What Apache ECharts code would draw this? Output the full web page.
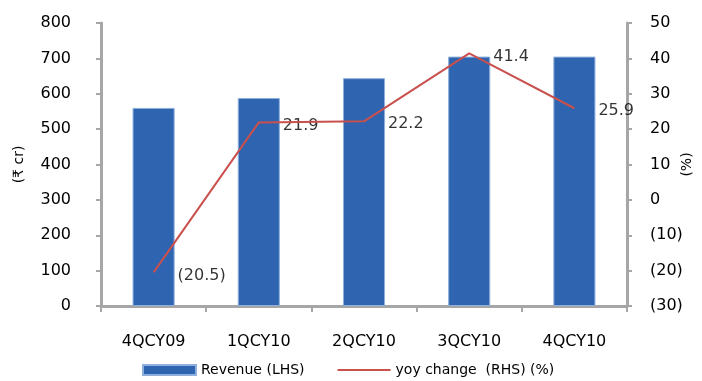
<!DOCTYPE html>
<html><head><meta charset="utf-8">
<script src="https://cdn.jsdelivr.net/npm/echarts@6/dist/echarts.min.js"></script>
<style>html,body{margin:0;padding:0;background:#fff}#c{width:702px;height:381px}</style>
</head><body><div id="c"></div>
<script>
const categories = ['4QCY09','1QCY10','2QCY10','3QCY10','4QCY10'];
const revenue = [560, 588, 644, 705, 705];
const yoyChange = [-20.5, 21.9, 22.2, 41.4, 25.9];
const yoyLabels = ['(20.5)','21.9','22.2','41.4','25.9'];
const fmtPct = v => v < 0 ? '(' + Math.abs(v) + ')' : String(v);
const FONT = '"DejaVu Sans", "Noto Sans", sans-serif';
const axisCol = '#a6a6a6';
const chart = echarts.init(document.getElementById('c'));
chart.setOption({
  animation: false,
  textStyle: {fontFamily: FONT, color: '#000'},
  grid: {left: 101, right: 75, top: 23, bottom: 75, containLabel: false, outerBoundsMode: 'none'},
  legend: {
    top: 358, left: 137, itemWidth: 53, itemHeight: 10, itemGap: 33,
    textStyle: {fontSize: 14, fontFamily: FONT, color: '#000'},
    data: [{name: 'Revenue (LHS)', icon: 'rect'},
           {name: 'yoy change  (RHS) (%)', icon: 'path://M0,0H53V2H0Z'}]
  },
  xAxis: {
    type: 'category', data: categories,
    axisLine: {lineStyle: {color: axisCol, width: 3}},
    axisTick: {show: true, length: 6, lineStyle: {color: axisCol, width: 2}},
    axisLabel: {fontSize: 16, color: '#000', margin: 28, fontFamily: FONT}
  },
  yAxis: [{
    type: 'value', min: 0, max: 800, interval: 100,
    name: '(₹ cr)', nameLocation: 'middle', nameGap: 75, nameRotate: 90, nameMoveOverlap: false,
    nameTextStyle: {fontSize: 14, color: '#000', fontFamily: FONT},
    splitLine: {show: false},
    axisLine: {show: true, lineStyle: {color: axisCol, width: 3}},
    axisTick: {show: true, length: 5, lineStyle: {color: axisCol, width: 2}},
    axisLabel: {fontSize: 16, color: '#000', margin: 30, fontFamily: FONT}
  }, {
    type: 'value', min: -30, max: 50, interval: 10,
    name: '(%)', nameLocation: 'middle', nameGap: 53, nameRotate: 90, nameMoveOverlap: false,
    nameTextStyle: {fontSize: 14, color: '#000', fontFamily: FONT},
    splitLine: {show: false},
    axisLine: {show: true, lineStyle: {color: axisCol, width: 3}},
    axisTick: {show: true, length: 5, lineStyle: {color: axisCol, width: 2}},
    axisLabel: {fontSize: 16, color: '#000', margin: 23, fontFamily: FONT, formatter: fmtPct}
  }],
  series: [{
    name: 'Revenue (LHS)', type: 'bar', data: revenue, barWidth: '40%',
    itemStyle: {color: '#2e64b0', borderColor: '#8fb0dc', borderWidth: 1}
  }, {
    name: 'yoy change  (RHS) (%)', type: 'line', yAxisIndex: 1, data: yoyChange,
    symbol: 'none',
    lineStyle: {color: '#c9504d', width: 2}, itemStyle: {color: '#c9504d'}
  }, {
    name: 'yoy labels', type: 'scatter', yAxisIndex: 1, data: yoyChange,
    symbolSize: 0, silent: true,
    label: {show: true, position: 'right', distance: 24, fontSize: 16, color: '#000',
      fontFamily: FONT, formatter: p => yoyLabels[p.dataIndex], offset: [0, 3]}
  }]
});
</script></body></html>
